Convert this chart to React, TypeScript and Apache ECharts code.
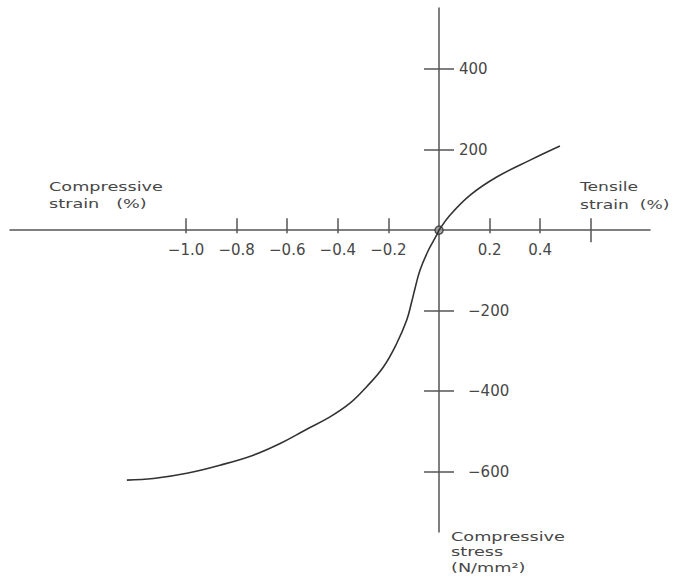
import React, { useEffect, useRef } from "react";
import * as echarts from "echarts";

// strain (%) and stress (N/mm²)
const strainPct = [-1.234, -1.129, -0.997, -0.866, -0.734, -0.628, -0.53, -0.431, -0.352, -0.286, -0.22, -0.167, -0.128, -0.108, -0.095, -0.075, -0.042, -0.009, 0, 0.043, 0.123, 0.228, 0.36, 0.478];
const stressVals = [-621, -617, -604, -584, -559, -530, -497, -464, -430, -389, -340, -281, -224, -178, -145, -99, -50, -12, 0, 37, 87, 132, 174, 209];

const xTickValues = [-1.0, -0.8, -0.6, -0.4, -0.2, 0.2, 0.4];
const xLongTickValues = [0.6];
const xLabelValues = [-1.0, -0.8, -0.6, -0.4, -0.2, 0.2, 0.4];
const yTickValues = [400, 200, -200, -400, -600];

const X_MIN = -1.696;
const X_MAX = 0.834;
const Y_MIN = -750;
const Y_MAX = 552;

const GRID_LEFT = 10;
const GRID_RIGHT = 25;
const GRID_TOP = 8;
const GRID_BOTTOM = 51;
const W = 675;
const H = 583;

const AXIS_COLOR = "#555";
const TEXT_COLOR = "#474747";
const FONT = '"DejaVu Sans", sans-serif';

export default function App() {
  const ref = useRef<HTMLDivElement>(null);
  useEffect(() => {
    if (!ref.current) return;
    const chart = echarts.init(ref.current, null, { renderer: "svg" });
    const gw = W - GRID_LEFT - GRID_RIGHT;
    const gh = H - GRID_TOP - GRID_BOTTOM;
    // place the axes where the other axis's zero lies
    const yAxisOffset = -(gw * (0 - X_MIN)) / (X_MAX - X_MIN);
    const xAxisOffset = -(gh * (0 - Y_MIN)) / (Y_MAX - Y_MIN);
    const baseX = {
      type: "value" as const,
      min: X_MIN,
      max: X_MAX,
      position: "bottom" as const,
      offset: xAxisOffset,
      splitLine: { show: false },
    };
    const baseY = {
      type: "value" as const,
      min: Y_MIN,
      max: Y_MAX,
      position: "left" as const,
      offset: yAxisOffset,
      splitLine: { show: false },
    };
    const tickStyle = { color: AXIS_COLOR, width: 1.5 };
    chart.setOption({
      animation: false,
      backgroundColor: "#fff",
      grid: { left: GRID_LEFT, right: GRID_RIGHT, top: GRID_TOP, bottom: GRID_BOTTOM, containLabel: false },
      xAxis: [
        {
          ...baseX,
          axisLine: { show: true, onZero: false, lineStyle: { color: AXIS_COLOR, width: 1.5 } },
          axisTick: { show: true, inside: true, length: 12, customValues: xTickValues.concat(xLongTickValues), lineStyle: tickStyle },
          axisLabel: {
            show: true,
            customValues: xLabelValues,
            margin: 12,
            fontFamily: FONT,
            fontSize: 15,
            color: TEXT_COLOR,
            formatter: (v: number) => (v < 0 ? "\u2212" + Math.abs(v).toFixed(1) : v.toFixed(1)),
          },
        },
        {
          ...baseX,
          axisLine: { show: false, onZero: false },
          axisTick: { show: true, inside: false, length: 3, customValues: xTickValues, lineStyle: tickStyle },
          axisLabel: { show: false },
        },
        {
          ...baseX,
          axisLine: { show: false, onZero: false },
          axisTick: { show: true, inside: false, length: 12, customValues: xLongTickValues, lineStyle: tickStyle },
          axisLabel: { show: false },
        },
      ],
      yAxis: [
        {
          ...baseY,
          axisLine: { show: true, onZero: false, lineStyle: { color: AXIS_COLOR, width: 1.5 } },
          axisTick: { show: true, inside: false, length: 15, customValues: yTickValues, lineStyle: tickStyle },
          axisLabel: {
            show: true,
            inside: true,
            customValues: yTickValues,
            margin: 20,
            fontFamily: FONT,
            fontSize: 15,
            color: TEXT_COLOR,
            formatter: (v: number) => (v < 0 ? "{neg|\u2212" + Math.abs(v) + "}" : String(v)),
            rich: {
              neg: { padding: [0, 0, 0, 9], fontFamily: FONT, fontSize: 15, color: TEXT_COLOR },
            },
          },
        },
        {
          ...baseY,
          axisLine: { show: false, onZero: false },
          axisTick: { show: true, inside: true, length: 15, customValues: yTickValues, lineStyle: tickStyle },
          axisLabel: { show: false },
        },
      ],
      series: [
        {
          type: "line",
          xAxisIndex: 0,
          yAxisIndex: 0,
          data: strainPct.map((x, i) => [x, stressVals[i]]),
          showSymbol: false,
          smooth: 0.4,
          lineStyle: { color: "#333", width: 1.6 },
          silent: true,
        },
        {
          type: "scatter",
          xAxisIndex: 0,
          yAxisIndex: 0,
          data: [[0, 0]],
          symbol: "circle",
          symbolSize: 8,
          itemStyle: { color: "#9a9a9a", borderColor: "#333", borderWidth: 1.5 },
          silent: true,
        },
      ],
      graphic: [
        {
          type: "text",
          x: 49,
          y: 178,
          scaleX: 1.36,
          style: { text: "Compressive\nstrain   (%)", font: `13px ${FONT}`, fill: TEXT_COLOR, lineHeight: 17, align: "left", verticalAlign: "top" },
        },
        {
          type: "text",
          x: 580,
          y: 178,
          scaleX: 1.32,
          style: { text: "Tensile\nstrain  (%)", font: `13px ${FONT}`, fill: TEXT_COLOR, lineHeight: 18, align: "left", verticalAlign: "top" },
        },
        {
          type: "text",
          x: 451,
          y: 529,
          scaleX: 1.36,
          style: { text: "Compressive\nstress\n(N/mm\u00b2)", font: `13px ${FONT}`, fill: TEXT_COLOR, lineHeight: 15.5, align: "left", verticalAlign: "top" },
        },
      ],
    });
    return () => chart.dispose();
  }, []);
  return (
    <div
      ref={ref}
      style={{ position: "fixed", left: 0, top: 0, width: W, height: H, background: "#fff" }}
    />
  );
}
